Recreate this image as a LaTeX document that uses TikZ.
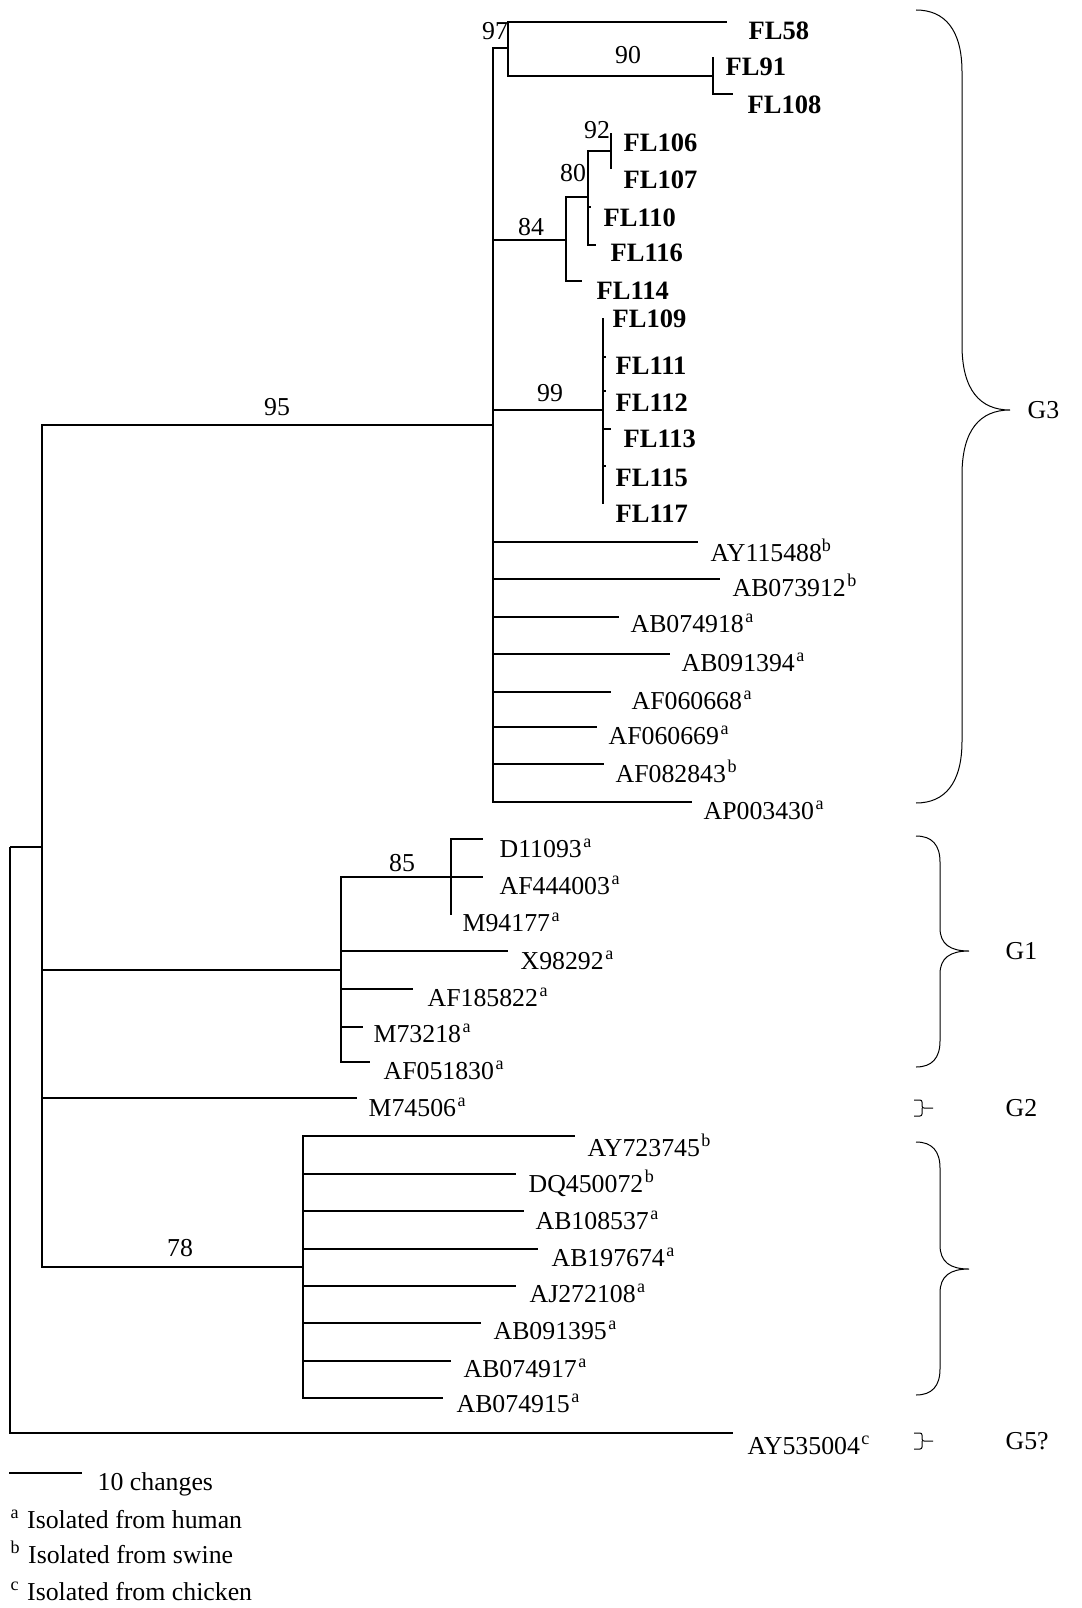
\documentclass[tikz,border=0pt]{standalone}
\usepackage{fontspec}
\setmainfont{Liberation Serif}
\newcommand{\host}[1]{\kern1.5pt\textsuperscript{#1}}
\newcommand{\taxon}[5][lab]{\coordinate (#2) at (#3); \node[#1] (#2l) at (#4) {#5};}

\begin{document}
\begin{tikzpicture}[x=1pt, y=-1pt, line width=1.3pt,
      every node/.style={font=\fontsize{25.8}{30}\selectfont, inner sep=0pt},
      lab/.style={anchor=base west},
      fl/.style={anchor=base west, font=\fontsize{26.5}{30}\selectfont\bfseries},
      bs/.style={anchor=center},
      grp/.style={anchor=west},
      br/.style={line width=1pt}]
  \useasboundingbox (0,0) rectangle (1081,1608);

  \coordinate (r) at (10,847);
  \coordinate (n42) at (42,847);
  \coordinate (n95) at (493,425);
  \coordinate (n97) at (508,48);
  \coordinate (n90) at (713,76);
  \coordinate (n84) at (566,240);
  \coordinate (n80) at (588,197);
  \coordinate (n92) at (611,151);
  \coordinate (n99) at (603,410);
  \coordinate (nG1) at (341,970);
  \coordinate (n85) at (451,877);
  \coordinate (n78) at (303,1267);

  \taxon[fl]{FL58}{727,22}{748,40}{FL58}
  \taxon[fl]{FL91}{713,57}{725,76}{FL91}
  \taxon[fl]{FL108}{733,94}{747,114}{FL108}
  \taxon[fl]{FL106}{611,133}{623,152}{FL106}
  \taxon[fl]{FL107}{611,169}{623,189}{FL107}
  \taxon[fl]{FL110}{591,207}{603,226}{FL110}
  \taxon[fl]{FL116}{596,245}{610,261}{FL116}
  \taxon[fl]{FL114}{582,281}{596,299}{FL114}
  \taxon[fl]{FL109}{603,318}{612,327}{FL109}
  \taxon[fl]{FL111}{606,357}{615,374}{FL111}
  \taxon[fl]{FL112}{606,391}{615,411}{FL112}
  \taxon[fl]{FL113}{611,429}{623,447}{FL113}
  \taxon[fl]{FL115}{606,466}{615,486}{FL115}
  \taxon[fl]{FL117}{603,504}{615,522}{FL117}
  \taxon{AY115488}{698,542}{710,561}{AY115488\textsuperscript{b}}
  \taxon{AB073912}{720,579}{732,596}{AB073912\host{b}}
  \taxon{AB074918}{619,617}{630,632}{AB074918\host{a}}
  \taxon{AB091394}{670,654}{681,671}{AB091394\host{a}}
  \taxon{AF060668}{611,692}{631,709}{AF060668\host{a}}
  \taxon{AF060669}{597,727}{608,744}{AF060669\host{a}}
  \taxon{AF082843}{604,764}{615,782}{AF082843\host{b}}
  \taxon{AP003430}{692,802}{703,819}{AP003430\host{a}}
  \taxon{D11093}{483,839}{499,857}{D11093\host{a}}
  \taxon{AF444003}{483,877}{499,894}{AF444003\host{a}}
  \taxon{M94177}{451,915}{462,931}{M94177\host{a}}
  \taxon{X98292}{508,951}{520,969}{X98292\host{a}}
  \taxon{AF185822}{413,989}{427,1006}{AF185822\host{a}}
  \taxon{M73218}{363,1027}{373,1042}{M73218\host{a}}
  \taxon{AF051830}{370,1062}{383,1079}{AF051830\host{a}}
  \taxon{M74506}{357,1098}{368,1116}{M74506\host{a}}
  \taxon{AY723745}{575,1136}{587,1156}{AY723745\host{b}}
  \taxon{DQ450072}{516,1174}{528,1192}{DQ450072\host{b}}
  \taxon{AB108537}{524,1211}{535,1229}{AB108537\host{a}}
  \taxon{AB197674}{538,1249}{551,1266}{AB197674\host{a}}
  \taxon{AJ272108}{516,1286}{529,1302}{AJ272108\host{a}}
  \taxon{AB091395}{481,1323}{493,1339}{AB091395\host{a}}
  \taxon{AB074917}{451,1361}{463,1377}{AB074917\host{a}}
  \taxon{AB074915}{443,1398}{456,1412}{AB074915\host{a}}
  \taxon{AY535004}{733,1433}{747,1454}{AY535004\host{c}}

  \foreach \p/\c in {r/n42, r/AY535004, n42/n95, n42/nG1, n42/M74506, n42/n78,
      n95/n97, n95/n84, n95/n99, n95/AY115488, n95/AB073912, n95/AB074918,
      n95/AB091394, n95/AF060668, n95/AF060669, n95/AF082843, n95/AP003430,
      n97/FL58, n97/n90, n90/FL91, n90/FL108,
      n84/n80, n84/FL114, n80/n92, n80/FL110, n80/FL116, n92/FL106, n92/FL107,
      n99/FL109, n99/FL111, n99/FL112, n99/FL113, n99/FL115, n99/FL117,
      nG1/n85, nG1/X98292, nG1/AF185822, nG1/M73218, nG1/AF051830,
      n85/D11093, n85/AF444003, n85/M94177,
      n78/AY723745, n78/DQ450072, n78/AB108537, n78/AB197674,
      n78/AJ272108, n78/AB091395, n78/AB074917, n78/AB074915}
    \draw (\p) |- (\c);

  \node[bs] (b97) at (495,31) {97};
  \node[bs] (b90) at (628,55) {90};
  \node[bs] (b92) at (597,130) {92};
  \node[bs] (b80) at (573,173) {80};
  \node[bs] (b84) at (531,227) {84};
  \node[bs] (b99) at (550,393) {99};
  \node[bs] (b95) at (277,407) {95};
  \node[bs] (b85) at (402,863) {85};
  \node[bs] (b78) at (180,1248) {78};

  % groups
  \draw[br] (916,10) .. controls (945,10) and (962,30) .. (962,72) -- (962,345)
    .. controls (962,390) and (980,410) .. (1010,410) .. controls (980,410) and (962,430) .. (962,475)
    -- (962,741) .. controls (962,783) and (945,803) .. (916,803);
  \draw[br] (916,836) .. controls (932,836) and (940,845) .. (940,862) -- (940,928)
    .. controls (940,944) and (950,951) .. (969,951) .. controls (950,951) and (940,958) .. (940,974)
    -- (940,1041) .. controls (940,1058) and (932,1067) .. (916,1067);
  \draw[br, rounded corners=2pt] (914,1100) -| (922,1108) -- (933,1108) (922,1108) |- (914,1116);
  \draw[br] (916,1142) .. controls (932,1142) and (940,1151) .. (940,1168) -- (940,1245)
    .. controls (940,1262) and (950,1269) .. (969,1269) .. controls (950,1269) and (940,1276) .. (940,1293)
    -- (940,1369) .. controls (940,1386) and (932,1395) .. (916,1395);
  \draw[br, rounded corners=2pt] (914,1433) -| (922,1441) -- (933,1441) (922,1441) |- (914,1449);
  \node[grp] (g3) at (1027,410) {G3};
  \node[grp] (g1) at (1005,951) {G1};
  \node[grp] (g2) at (1005,1108) {G2};
  \node[grp] (g5) at (1005,1441) {G5?};

  \coordinate (s0) at (9,1473);
  \coordinate (s1) at (82,1473);
  \draw (s0) -- (s1);
  \node[lab] (sc) at (97,1490) {10 changes};
  \node[lab] (ha) at (10,1528) {\textsuperscript{a}\hspace{8pt}Isolated from human};
  \node[lab] (hb) at (10,1563) {\textsuperscript{b}\hspace{8pt}Isolated from swine};
  \node[lab] (hc) at (10,1600) {\textsuperscript{c}\hspace{8pt}Isolated from chicken};
\end{tikzpicture}
\end{document}
